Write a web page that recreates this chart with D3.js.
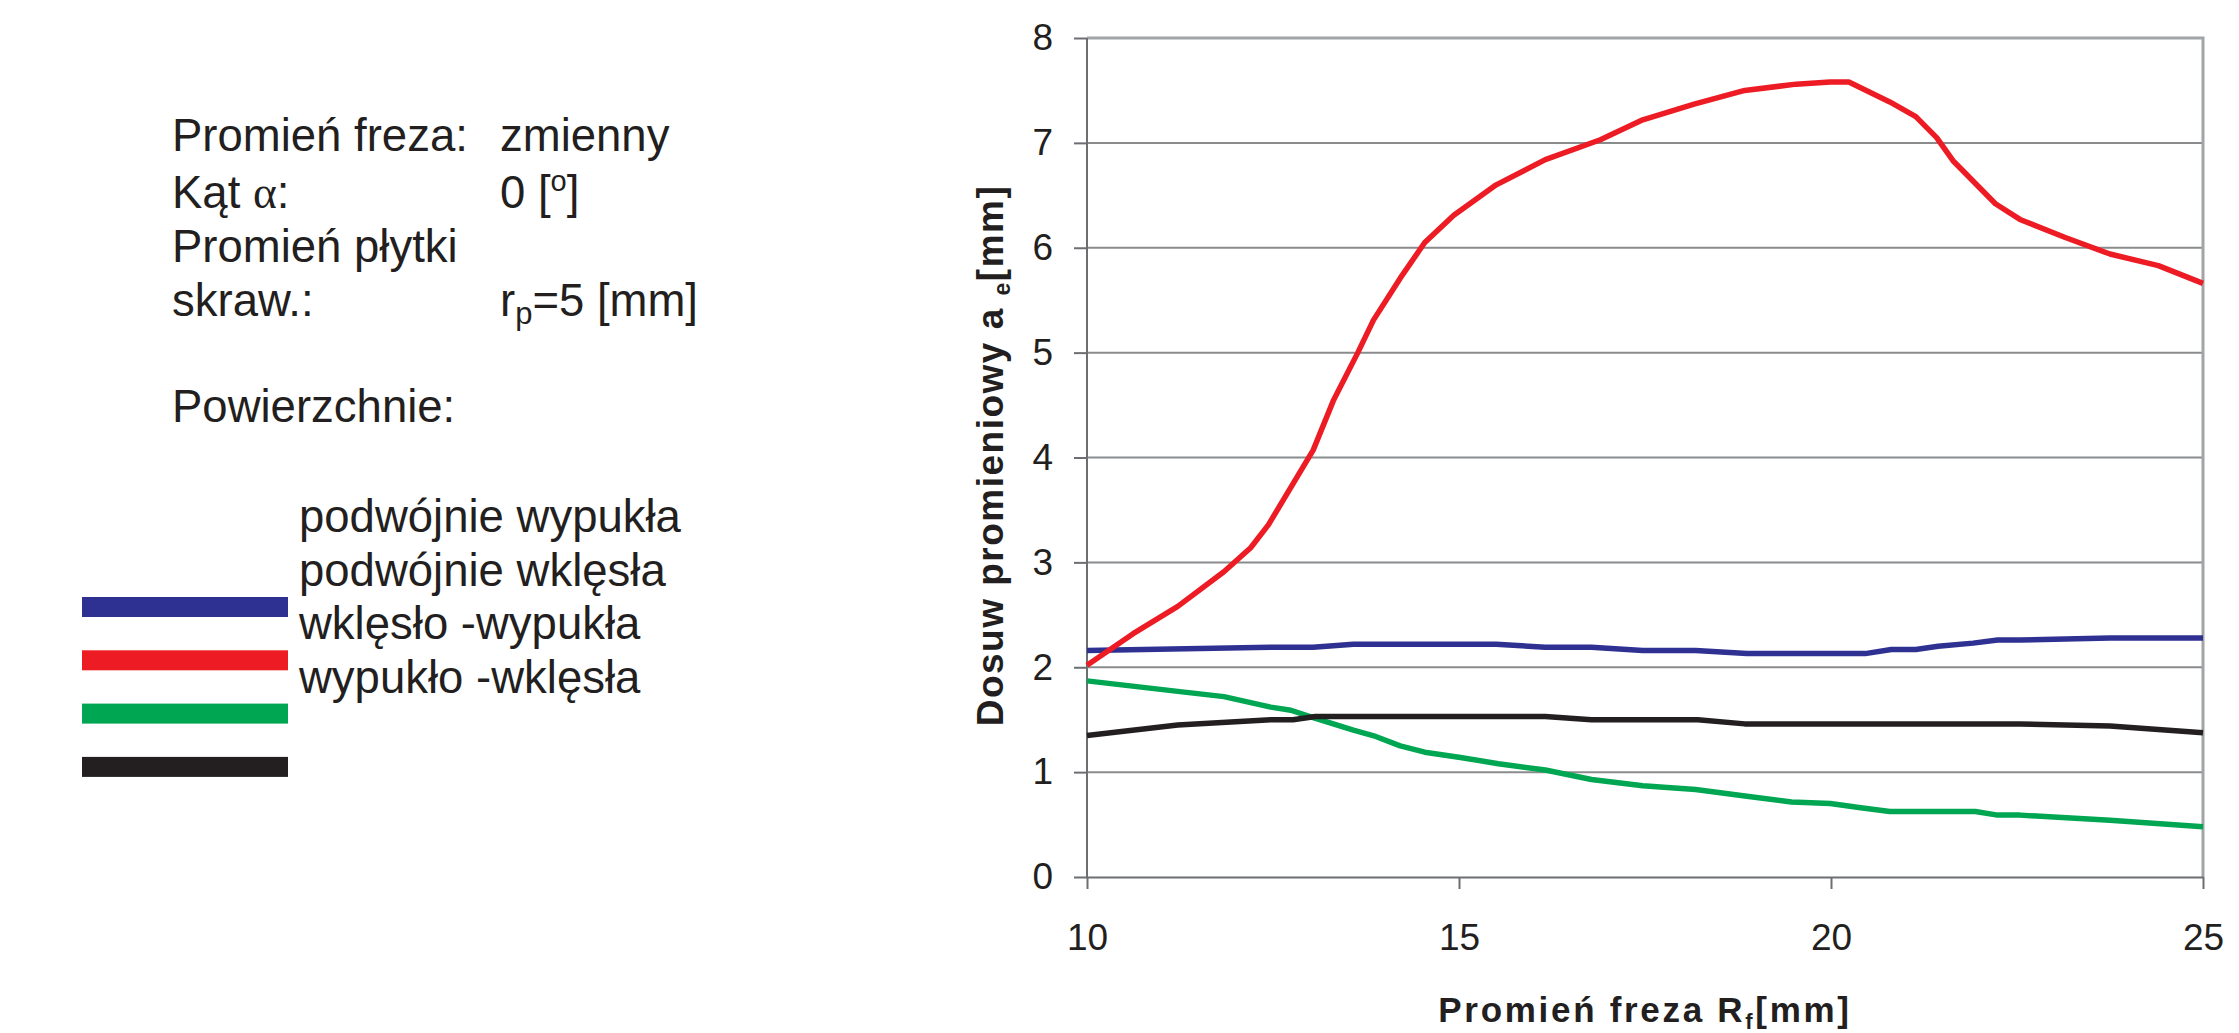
<!DOCTYPE html>
<html lang="pl">
<head>
<meta charset="utf-8">
<title>Dosuw promieniowy a_e vs promień freza R_f</title>
<script src="https://cdn.jsdelivr.net/npm/d3@7"></script>
<style>
  html, body { margin: 0; padding: 0; background: #fff; }
  svg { display: block; font-family: "Liberation Sans", Arial, sans-serif; fill: #231f20; }
</style>
</head>
<body>
<svg id="chart" width="2239" height="1033"></svg>
<script>
// ---------------------------------------------------------------------------
// Data: [R_f mm, a_e mm]
// ---------------------------------------------------------------------------
const podwojnieWypukla = [
  [10, 2.16], [12.47, 2.19], [13.04, 2.19], [13.58, 2.22], [15.5, 2.22],
  [16.16, 2.19], [16.78, 2.19], [17.47, 2.16], [18.18, 2.16], [18.87, 2.13],
  [20.46, 2.13], [20.81, 2.17], [21.14, 2.17], [21.44, 2.2], [21.91, 2.23],
  [22.24, 2.26], [22.54, 2.26], [23.75, 2.28], [25, 2.28],
];
const podwojnieWklesla = [
  [10, 2.02], [10.62, 2.32], [11.22, 2.58], [11.84, 2.91], [12.2, 3.14],
  [12.44, 3.36], [13.04, 4.07], [13.31, 4.54], [13.64, 5.0], [13.85, 5.31],
  [14.21, 5.71], [14.54, 6.05], [14.93, 6.31], [15.5, 6.6], [16.16, 6.84],
  [16.9, 7.03], [17.47, 7.22], [18.16, 7.37], [18.84, 7.5], [19.53, 7.56],
  [19.99, 7.58], [20.24, 7.58], [20.79, 7.39], [21.14, 7.25], [21.42, 7.05],
  [21.64, 6.83], [22.21, 6.42], [22.54, 6.27], [23.14, 6.1], [23.75, 5.94],
  [24.4, 5.83], [25, 5.66],
];
const wklesloWypukla = [
  [10, 1.87], [11.22, 1.77], [11.84, 1.72], [12.47, 1.62], [12.74, 1.59],
  [13.04, 1.52], [13.58, 1.4], [13.88, 1.34], [14.21, 1.25], [14.54, 1.19],
  [15.02, 1.14], [15.53, 1.08], [16.16, 1.02], [16.78, 0.93], [17.47, 0.87],
  [18.18, 0.835], [18.87, 0.77], [19.47, 0.715], [19.99, 0.7], [20.4, 0.66],
  [20.79, 0.625], [21.94, 0.625], [22.24, 0.59], [22.54, 0.59], [23.75, 0.54],
  [25, 0.48],
];
const wypukloWklesla = [
  [10, 1.35], [11.22, 1.45], [12.47, 1.5], [12.77, 1.5], [13.07, 1.53],
  [16.16, 1.53], [16.78, 1.5], [18.21, 1.5], [18.84, 1.46], [22.54, 1.46],
  [23.75, 1.44], [25, 1.375],
];

const xTicks = [10, 15, 20, 25];
const yTicks = [0, 1, 2, 3, 4, 5, 6, 7, 8];

// Legend labels (order as printed) and the swatch colours (order as drawn).
const legendLabels = ["podwójnie wypukła", "podwójnie wklęsła", "wklęsło -wypukła", "wypukło -wklęsła"];
const seriesColors = ["#2e3192", "#ed1c24", "#00a651", "#231f20"];
const series = [podwojnieWypukla, podwojnieWklesla, wklesloWypukla, wypukloWklesla];

// ---------------------------------------------------------------------------
// Layout
// ---------------------------------------------------------------------------
const plot = { left: 1087, right: 2203, top: 38, bottom: 877 };

const svg = d3.select("#chart");

const x = d3.scaleLinear().domain([10, 25]).range([plot.left, plot.right]);
const y = d3.scaleLinear().domain([0, 8]).range([plot.bottom, plot.top]);

// Horizontal gridlines (1..7 darker, top one lighter like the frame).
svg.append("g")
  .selectAll("line")
  .data(yTicks.filter(t => t > 0 && t < 8))
  .join("line")
  .attr("x1", plot.left).attr("x2", plot.right)
  .attr("y1", d => y(d)).attr("y2", d => y(d))
  .attr("stroke", "#8a8b8d").attr("stroke-width", 2);

// Top and right frame lines.
svg.append("path")
  .attr("d", `M${plot.left},${y(8)}H${plot.right}V${plot.bottom}`)
  .attr("fill", "none")
  .attr("stroke", "#a2a4a7").attr("stroke-width", 3);

// Y axis with left ticks.
const yAxis = svg.append("g")
  .attr("transform", `translate(${plot.left},0)`)
  .call(d3.axisLeft(y).tickValues(yTicks).tickSize(13).tickPadding(21).tickFormat(d3.format("d")));

// X axis with downward ticks.
const xAxis = svg.append("g")
  .attr("transform", `translate(0,${plot.bottom})`)
  .call(d3.axisBottom(x).tickValues(xTicks).tickSize(12).tickSizeOuter(0).tickPadding(35).tickFormat(d3.format("d")));

[yAxis, xAxis].forEach(a => {
  a.select(".domain").attr("stroke", "#6d6e71").attr("stroke-width", 2);
  a.selectAll(".tick line").attr("stroke", "#6d6e71").attr("stroke-width", 2);
  a.selectAll(".tick text")
    .attr("fill", "#231f20")
    .attr("font-size", 37)
    .attr("font-family", "'Liberation Sans', Arial, sans-serif");
});
yAxis.select(".domain").attr("d", `M0,${plot.bottom}V${plot.top}`);

// Series lines.
const line = d3.line().x(d => x(d[0])).y(d => y(d[1]));
svg.append("g")
  .selectAll("path")
  .data(series)
  .join("path")
  .attr("d", line)
  .attr("fill", "none")
  .attr("stroke", (d, i) => seriesColors[i])
  .attr("stroke-width", 5.5)
  .attr("stroke-linejoin", "round");

// Axis titles (bold, letter-spaced).
const xTitle = svg.append("text")
  .attr("x", (plot.left + plot.right) / 2).attr("y", 1022)
  .attr("text-anchor", "middle")
  .attr("font-size", 35).attr("font-weight", 700)
  .attr("letter-spacing", 2.7);
xTitle.append("tspan").text("Promień freza R");
xTitle.append("tspan").attr("font-size", 22).attr("dy", 7).text("f");
xTitle.append("tspan").attr("dy", -7).text("[mm]");

const yTitle = svg.append("text")
  .attr("transform", `translate(1003,${(plot.top + plot.bottom) / 2 - 2}) rotate(-90)`)
  .attr("text-anchor", "middle")
  .attr("font-size", 37).attr("font-weight", 700)
  .attr("letter-spacing", 1.5);
yTitle.append("tspan").text("Dosuw promieniowy a ");
yTitle.append("tspan").attr("font-size", 23).attr("dy", 7).text("e");
yTitle.append("tspan").attr("dy", -7).text("[mm]");

// ---------------------------------------------------------------------------
// Left-hand description block
// ---------------------------------------------------------------------------
const info = svg.append("g").attr("font-size", 45.5);
const col1 = 172, col2 = 500;

info.append("text").attr("x", col1).attr("y", 151).text("Promień freza:");
info.append("text").attr("x", col2).attr("y", 151).text("zmienny");

const kat = info.append("text").attr("x", col1).attr("y", 208);
kat.append("tspan").text("Kąt ");
kat.append("tspan").attr("font-family", "'Liberation Serif', 'Times New Roman', serif").text("α");
kat.append("tspan").text(":");

const deg = info.append("text").attr("x", col2).attr("y", 208);
deg.append("tspan").text("0 [");
deg.append("tspan").attr("font-size", 29).attr("dy", -17).text("o");
deg.append("tspan").attr("dy", 17).text("]");

info.append("text").attr("x", col1).attr("y", 262).text("Promień płytki");
info.append("text").attr("x", col1).attr("y", 316).text("skraw.:");

const rp = info.append("text").attr("x", col2).attr("y", 316);
rp.append("tspan").text("r");
rp.append("tspan").attr("font-size", 31).attr("dy", 8).text("p");
rp.append("tspan").attr("dy", -8).text("=5 [mm]");

info.append("text").attr("x", col1).attr("y", 422).text("Powierzchnie:");

// Legend labels and colour swatches (as laid out in the original figure).
info.selectAll(".leg-label")
  .data(legendLabels)
  .join("text")
  .attr("class", "leg-label")
  .attr("x", 299)
  .attr("y", (d, i) => 532 + i * 53.7)
  .text(d => d);

svg.selectAll(".leg-swatch")
  .data(seriesColors)
  .join("rect")
  .attr("class", "leg-swatch")
  .attr("x", 82).attr("width", 206)
  .attr("y", (d, i) => 597 + i * 53.3).attr("height", 20)
  .attr("fill", d => d);
</script>
</body>
</html>
